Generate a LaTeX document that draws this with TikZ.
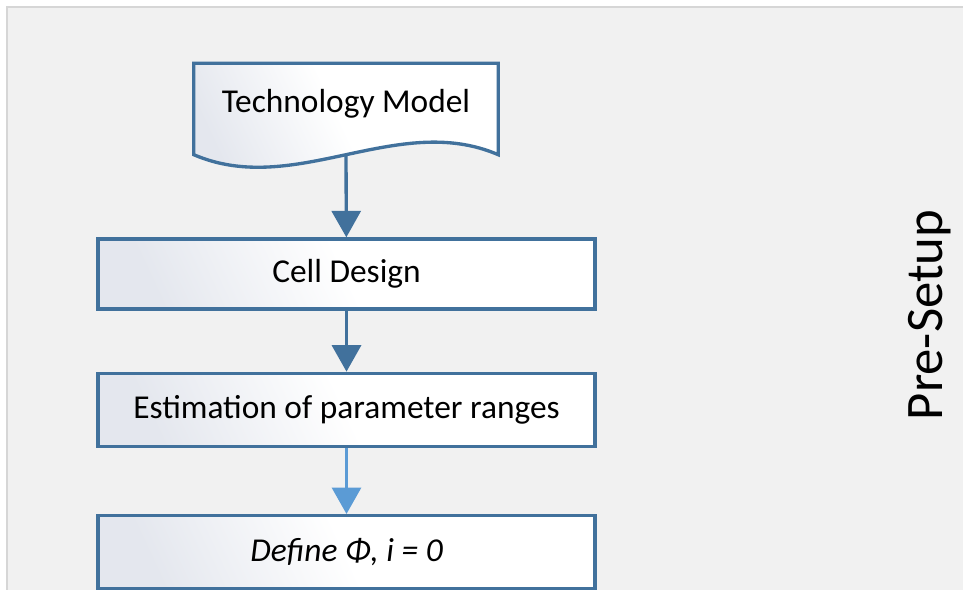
\documentclass[tikz,border=0pt]{standalone}
\usepackage{fontspec}
\setmainfont{Carlito}
\usepackage{tikz}
\usetikzlibrary{positioning, calc, arrows.meta}

\definecolor{stepline}{HTML}{41719C}
\definecolor{lightflow}{HTML}{5B9BD5}
\definecolor{panelbg}{HTML}{F1F1F1}
\definecolor{panelline}{HTML}{D6D6D6}
\definecolor{boxgrad}{HTML}{E4E7EE}

\begin{document}
\begin{tikzpicture}[thick, >=stealth,
    boxfill/.style={left color=boxgrad, right color=white, middle color=white, shading angle=115},
    flowbox/.style={draw=stepline, line width=1.9pt, boxfill,
        minimum width=9.94cm, minimum height=1.46cm,
        font=\fontsize{19}{23}\selectfont},
    docbox/.style={minimum width=6.06cm, minimum height=1.6cm,
        font=\fontsize{19}{23}\selectfont},
    darkarrow/.style={draw=stepline, line width=1.9pt,
        -{Triangle[width=0.58cm, length=0.53cm]}, color=stepline},
    lightarrow/.style={draw=lightflow, line width=1.9pt,
        -{Triangle[width=0.58cm, length=0.53cm]}, color=lightflow},
    node distance=1.22cm]

    \useasboundingbox (0,0) rectangle (19.26,11.78);
    \clip (0,0) rectangle (19.26,11.78);

    % --- Background panel ---
    \fill[panelbg] (0.14,-0.5) rectangle (19.8,11.64);
    \draw[panelline, line width=1.2pt] (0.14,-0.5) -- (0.14,11.64) -- (19.8,11.64);

    % --- Technology Model (document shape) ---
    \node[docbox] (tech) at (6.92,9.7) {};
    \draw[stepline, line width=1.9pt, boxfill]
        ([yshift=-2mm]tech.south west) -- (tech.north west) -- (tech.north east)
        -- ([yshift=-2mm]tech.south east)
        .. controls +(-2.02,0.87) and +(2.02,-0.87) .. ([yshift=-2mm]tech.south west) -- cycle;
    \node[docbox] at (tech) {Technology Model};
    \coordinate (techend) at ([yshift=-2mm]tech.south);

    % --- Process boxes ---
    \node[flowbox, minimum height=1.4cm] (cell) at (6.93,6.3) {Cell Design};
    \node[flowbox, below=of cell] (est) {Estimation of parameter ranges};
    \node[flowbox, below=1.32cm of est] (def) {\itshape Define Φ, i = 0};
    \coordinate[below=1cm of def.south] (next);

    % --- Connectors ---
    \draw[darkarrow] (techend) -- (cell);
    \draw[darkarrow] (cell) -- (est);
    \draw[lightarrow] (est) -- (def);
    \draw[lightflow, line width=1.9pt] (def) -- (next);

    % --- Phase label ---
    \node[rotate=90, anchor=base, font=\fontsize{30}{36}\selectfont] (phase) at (18.84,5.48) {Pre-Setup};

\end{tikzpicture}
\end{document}
